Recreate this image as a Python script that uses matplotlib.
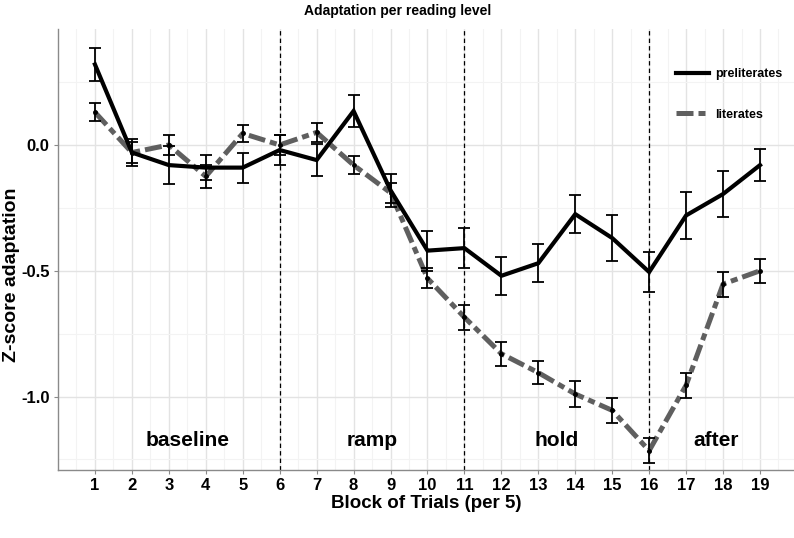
import matplotlib
matplotlib.use("Agg")
import matplotlib.pyplot as plt
from matplotlib.ticker import MultipleLocator
import numpy as np

blocks = list(range(1, 20))
pre_mean = [0.32, -0.03, -0.08, -0.09, -0.09, -0.02, -0.06, 0.135, -0.18, -0.42, -0.41, -0.52, -0.47, -0.275, -0.37, -0.505, -0.28, -0.195, -0.08]
pre_err = [0.065, 0.055, 0.075, 0.05, 0.06, 0.06, 0.065, 0.065, 0.065, 0.08, 0.08, 0.075, 0.075, 0.075, 0.09, 0.08, 0.095, 0.09, 0.063]
lit_mean = [0.13, -0.03, 0.0, -0.125, 0.046, 0.0, 0.05, -0.08, -0.19, -0.53, -0.685, -0.83, -0.905, -0.99, -1.055, -1.215, -0.955, -0.553, -0.5]
lit_err = [0.035, 0.04, 0.04, 0.045, 0.035, 0.04, 0.038, 0.035, 0.04, 0.04, 0.05, 0.048, 0.045, 0.05, 0.05, 0.05, 0.05, 0.05, 0.048]
phase_names = ["baseline", "ramp", "hold", "after"]
phase_x = [3.5, 8.5, 13.5, 17.8]
phase_bounds = [6, 11, 16]

FONT = ["Liberation Sans", "DejaVu Sans"]
plt.rcParams["font.family"] = FONT
plt.rcParams["font.weight"] = "bold"

fig = plt.figure(figsize=(7.94, 5.38), dpi=100)
ax = fig.add_axes([58 / 794, (538 - 470) / 538, (794 - 58) / 794, (470 - 29) / 538])

ax.set_xlim(0.0, 19.92)
ax.set_ylim(-1.292, 0.461)

# grid
ax.yaxis.set_major_locator(MultipleLocator(0.5))
ax.yaxis.set_minor_locator(MultipleLocator(0.25))
ax.set_xticks(blocks)
ax.set_xticks(np.arange(0.5, 20, 1.0), minor=True)
ax.grid(which="major", color="#e3e3e3", lw=1.0)
ax.grid(which="minor", color="#f3f3f3", lw=0.8)
ax.set_axisbelow(True)

for b in phase_bounds:
    ax.axvline(b, color="black", lw=0.9, ls=(0, (3.5, 2.5)), zorder=2)

ax.plot(blocks, pre_mean, color="black", lw=3.0, solid_joinstyle="miter", label="preliterates", zorder=4)
ax.errorbar(blocks, pre_mean, yerr=pre_err, fmt="none", ecolor="black", elinewidth=1.3, capsize=4, capthick=1.3, zorder=5)

ax.plot(blocks, lit_mean, color="#5f5f5f", lw=3.6, dashes=(3.4, 1.0, 1.4, 1.0), label="literates", zorder=3)
ax.errorbar(blocks, lit_mean, yerr=lit_err, fmt="o", color="black", ms=2.5, ecolor="black", elinewidth=1.3, capsize=4, capthick=1.3, zorder=5)

for name, x in zip(phase_names, phase_x):
    ax.text(x, -1.175, name, ha="center", va="center", fontsize=15, fontweight="bold", zorder=6)

for s in ["top", "right"]:
    ax.spines[s].set_visible(False)
for s in ["left", "bottom"]:
    ax.spines[s].set_color("#8a8a8a")
    ax.spines[s].set_linewidth(1.0)
ax.tick_params(which="major", length=3, color="#8a8a8a", labelsize=12, pad=3)
ax.tick_params(which="minor", length=0)
ax.set_yticks([-1.0, -0.5, 0.0])
ax.set_yticklabels(["-1.0", "-0.5", "0.0"], fontweight="bold")
ax.set_xticklabels([str(b) for b in blocks], fontweight="bold")

ax.set_xlabel("Block of Trials (per 5)", fontsize=13.5, fontweight="bold", labelpad=1)
ax.set_ylabel("Z-score adaptation", fontsize=14, fontweight="bold")
ax.yaxis.set_label_coords((20 - 58) / 736, (470 - 275) / 441)
fig.text(398 / 794, 1 - 11 / 538, "Adaptation per reading level", ha="center", va="center", fontsize=10, fontweight="bold")

leg = ax.legend(loc="upper left", bbox_to_anchor=(676 / 794, (538 - 68) / 538), bbox_transform=fig.transFigure,
                frameon=False, fontsize=9, handlelength=2.6, handletextpad=0.5, labelspacing=2.3,
                borderpad=0, borderaxespad=0)
for t in leg.get_texts():
    t.set_fontweight("bold")

fig.savefig("out.png", dpi=100)
